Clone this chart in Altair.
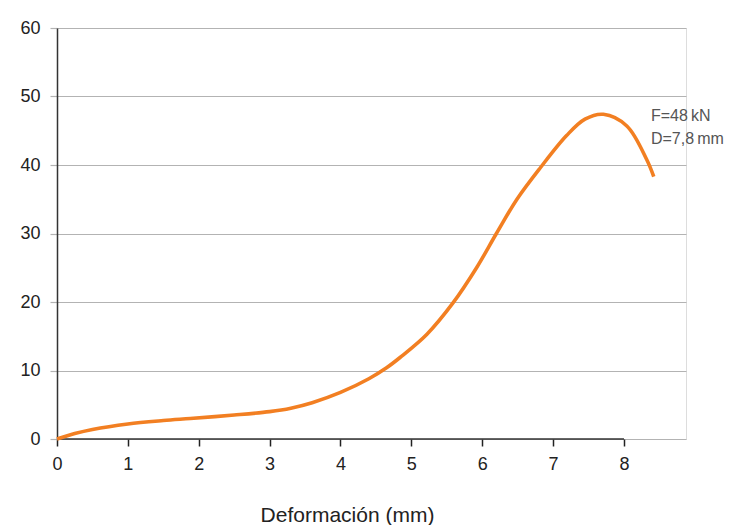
import altair as alt
import pandas as pd

# Curve data
deform = [0, 0.25, 0.5, 1.0, 1.5, 1.88, 2.5, 3.0, 3.3, 3.6, 4.0, 4.4, 4.65, 4.84,
          5.22, 5.59, 5.92, 6.2, 6.49, 6.82, 7.19, 7.45, 7.71, 8.04, 8.32, 8.42]
force = [0, 0.8, 1.4, 2.2, 2.7, 3.0, 3.5, 4.0, 4.5, 5.3, 6.8, 8.8, 10.4, 11.9,
         15.3, 19.9, 25.0, 30.0, 35.0, 39.6, 44.3, 46.7, 47.4, 45.7, 40.8, 38.3]

x_ticks = [0, 1, 2, 3, 4, 5, 6, 7, 8]
y_ticks = [0, 10, 20, 30, 40, 50, 60]
ann_lines = ["F=48\u2009kN", "D=7,8\u2009mm"]
ann_x = [8.38, 8.38]
ann_y = [47.2, 43.8]

df = pd.DataFrame({"x": deform, "y": force})
ann = pd.DataFrame({"x": ann_x, "y": ann_y, "t": ann_lines})
axis_df = pd.DataFrame({"x": [0], "x2": [8], "y": [0]})

FONT = "Liberation Sans"
xs = alt.Scale(domain=[0, 8.875], nice=False, zero=False)
ys = alt.Scale(domain=[0, 60], nice=False)

line = alt.Chart(df).mark_line(color="#F27F22", strokeWidth=3.6, interpolate="catmull-rom").encode(
    x=alt.X("x:Q", scale=xs,
            axis=alt.Axis(values=x_ticks, format="d", title="Deformación (mm)", domain=False, grid=False,
                          tickColor="#222", tickSize=7, tickWidth=1.5, labelFlush=False,
                          labelFont=FONT, labelFontSize=18, labelColor="#222", labelPadding=9,
                          titleFont=FONT, titleFontSize=21, titleFontWeight="normal",
                          titleColor="#222", titleX=290, titleY=65, titleBaseline="top")),
    y=alt.Y("y:Q", scale=ys,
            axis=alt.Axis(values=y_ticks, format="d", title=None, domainColor="#333", domainWidth=1.5,
                          gridColor="#B3B3B3", gridWidth=1.2, labelFlush=False,
                          tickColor="#B3B3B3", tickSize=7, tickWidth=1.2,
                          labelFont=FONT, labelFontSize=18, labelColor="#222", labelPadding=10)),
)

xaxis = alt.Chart(axis_df).mark_rule(color="#333", strokeWidth=1.5).encode(
    x=alt.X("x:Q", scale=xs), x2="x2:Q", y=alt.Y("y:Q", scale=ys)
)

text = alt.Chart(ann).mark_text(align="left", baseline="middle", font=FONT, fontSize=16,
                                color="#555").encode(
    x=alt.X("x:Q", scale=xs), y=alt.Y("y:Q", scale=ys), text="t:N"
)

chart = alt.layer(xaxis, line, text).properties(
    width=629, height=411,
    autosize=alt.AutoSizeParams(type="none"),
    padding={"left": 57, "top": 28, "right": 43, "bottom": 86},
).configure_view(stroke=None).configure(background="white")

chart.save("out.html", embed_options={"renderer": "svg", "actions": False})
